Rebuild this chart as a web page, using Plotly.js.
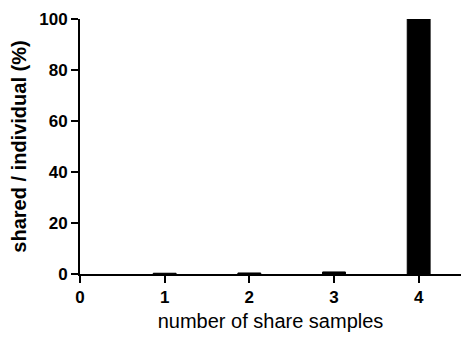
<!DOCTYPE html>
<html><head><meta charset="utf-8">
<script src="https://cdn.plot.ly/plotly-3.0.1.min.js"></script>
<style>html,body{margin:0;padding:0;background:#fff}#chart{width:462px;height:338px}</style>
</head><body><div id="chart"></div>
<script>
const samples = [1, 2, 3, 4];
const sharedPct = [0.3, 0.4, 0.8, 100];
const xTicks = [0, 1, 2, 3, 4];
const yTicks = [0, 20, 40, 60, 80, 100];

const trace = {
  type: 'bar', x: samples, y: sharedPct, width: 0.27,
  marker: {color: '#000', line: {color: '#000', width: 1}},
  hoverinfo: 'none'
};
const fam = 'Liberation Sans, Arial, sans-serif';
const fontB = {family: fam, size: 17, color: '#000', weight: 'bold'};
const layout = {
  width: 462, height: 338,
  margin: {l: 80, r: 1, t: 19, b: 64},
  paper_bgcolor: '#fff', plot_bgcolor: '#fff',
  showlegend: false,
  xaxis: {
    range: [0, 4.5], tickvals: xTicks, ticktext: xTicks.map(String),
    showgrid: false, zeroline: false, showline: true, linecolor: '#000', linewidth: 2,
    ticks: 'outside', ticklen: 7, tickwidth: 2, tickcolor: '#000',
    tickfont: fontB, automargin: false,
    title: {text: 'number of share samples', font: {family: fam, size: 20, color: '#000'}, standoff: 8}
  },
  yaxis: {
    range: [0, 100], tickvals: yTicks, ticktext: yTicks.map(String),
    showgrid: false, zeroline: false, showline: true, linecolor: '#000', linewidth: 2,
    ticks: 'outside', ticklen: 7, tickwidth: 2, tickcolor: '#000',
    tickfont: fontB, automargin: false,
    title: {text: 'shared / individual (%)', font: {family: fam, size: 20, color: '#000', weight: 'bold'}, standoff: 7}
  }
};
Plotly.newPlot('chart', [trace], layout, {staticPlot: true, displayModeBar: false});
</script></body></html>
